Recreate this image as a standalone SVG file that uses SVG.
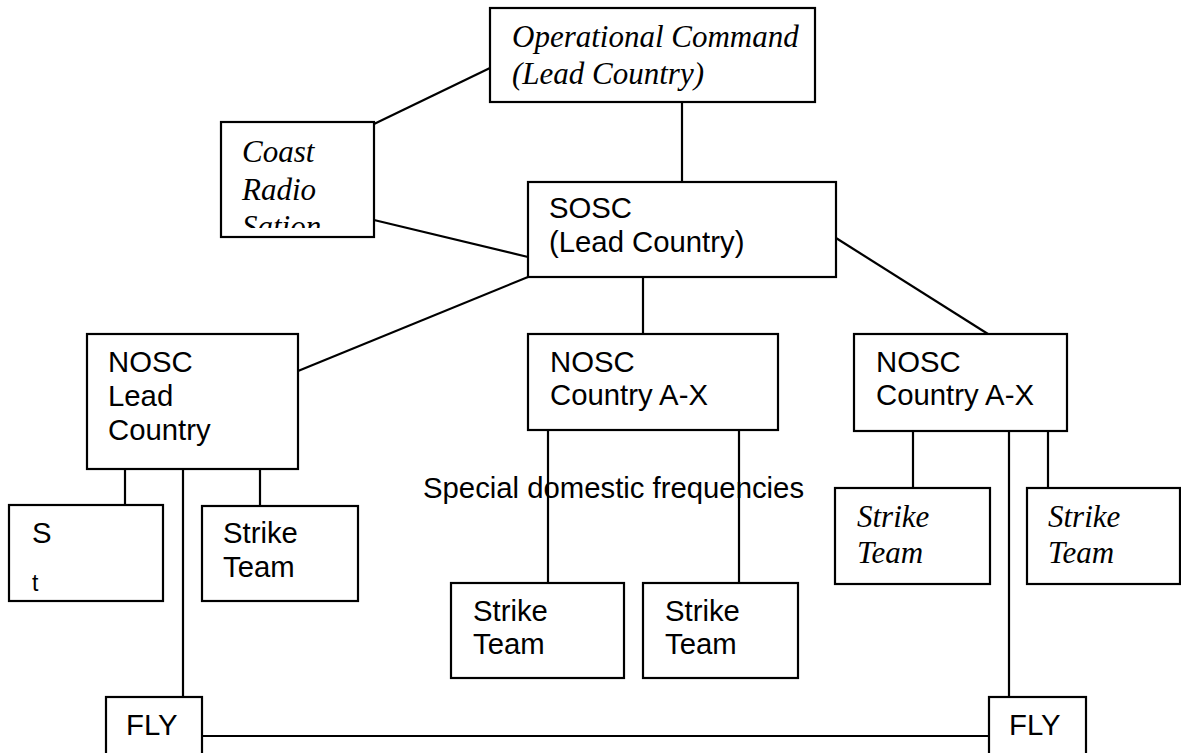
<svg xmlns="http://www.w3.org/2000/svg" width="1181" height="753" viewBox="0 0 1181 753">
<style>
.box{fill:#fff;stroke:#000;stroke-width:2.2}
.c{stroke:#000;stroke-width:2.2;fill:none}
.a{font-family:"Liberation Sans",Arial,sans-serif;font-size:29.3px;fill:#000}
.t{font-family:"Liberation Serif","Times New Roman",serif;font-style:italic;font-size:31px;fill:#000}
</style>
<defs>
<clipPath id="coastClip"><rect x="222" y="123" width="151" height="105"/></clipPath>
</defs>
<rect width="1181" height="753" fill="#fff"/>
<g id="connectors">
<line class="c" x1="682" y1="102" x2="682" y2="182"/>
<line class="c" x1="374" y1="124" x2="490" y2="68"/>
<line class="c" x1="374" y1="220" x2="528" y2="257"/>
<line class="c" x1="528" y1="277" x2="298" y2="371"/>
<line class="c" x1="643" y1="277" x2="643" y2="334"/>
<line class="c" x1="836" y1="238" x2="988" y2="334"/>
<line class="c" x1="125" y1="469" x2="125" y2="505"/>
<line class="c" x1="260" y1="469" x2="260" y2="506"/>
<line class="c" x1="183" y1="469" x2="183" y2="697"/>
<line class="c" x1="548" y1="430" x2="548" y2="583"/>
<line class="c" x1="739" y1="430" x2="739" y2="583"/>
<line class="c" x1="913" y1="431" x2="913" y2="488"/>
<line class="c" x1="1048" y1="431" x2="1048" y2="488"/>
<line class="c" x1="1009" y1="431" x2="1009" y2="697"/>
<line class="c" x1="202" y1="736" x2="989" y2="736"/>
</g>
<g id="opcommand">
<rect class="box" x="490" y="8" width="325" height="94"/>
<text class="t" x="512" y="47">Operational Command</text>
<text class="t" x="512" y="84">(Lead Country)</text>
</g>
<g id="coast">
<rect class="box" x="221" y="122" width="153" height="115"/>
<g clip-path="url(#coastClip)">
<text class="t" x="242" y="162">Coast</text>
<text class="t" x="242" y="200">Radio</text>
<text class="t" x="242" y="237">Sation</text>
</g>
</g>
<g id="sosc">
<rect class="box" x="528" y="182" width="308" height="95"/>
<text class="a" x="549" y="218">SOSC</text>
<text class="a" x="549" y="252">(Lead Country)</text>
</g>
<g id="nosc-lead">
<rect class="box" x="87" y="334" width="211" height="135"/>
<text class="a" x="108" y="372">NOSC</text>
<text class="a" x="108" y="406">Lead</text>
<text class="a" x="108" y="440">Country</text>
</g>
<g id="nosc-mid">
<rect class="box" x="528" y="334" width="250" height="96"/>
<text class="a" x="550" y="372">NOSC</text>
<text class="a" x="550" y="405">Country A-X</text>
</g>
<g id="nosc-right">
<rect class="box" x="854" y="334" width="213" height="97"/>
<text class="a" x="876" y="372">NOSC</text>
<text class="a" x="876" y="405">Country A-X</text>
</g>
<g id="strike-s">
<rect class="box" x="9" y="505" width="154" height="96"/>
<text class="a" x="32" y="543">S</text>
<text class="a" x="32" y="591" style="font-size:23px">t</text>
</g>
<g id="strike-left">
<rect class="box" x="202" y="506" width="156" height="95"/>
<text class="a" x="223" y="543">Strike</text>
<text class="a" x="223" y="577">Team</text>
</g>
<g id="label-special">
<text class="a" x="423" y="498">Special domestic frequencies</text>
</g>
<g id="strike-mid1">
<rect class="box" x="451" y="583" width="173" height="95"/>
<text class="a" x="473" y="621">Strike</text>
<text class="a" x="473" y="654">Team</text>
</g>
<g id="strike-mid2">
<rect class="box" x="643" y="583" width="155" height="95"/>
<text class="a" x="665" y="621">Strike</text>
<text class="a" x="665" y="654">Team</text>
</g>
<g id="strike-right1">
<rect class="box" x="835" y="488" width="155" height="96"/>
<text class="t" x="857" y="527">Strike</text>
<text class="t" x="857" y="563">Team</text>
</g>
<g id="strike-right2">
<rect class="box" x="1027" y="488" width="153" height="96"/>
<text class="t" x="1048" y="527">Strike</text>
<text class="t" x="1048" y="563">Team</text>
</g>
<g id="fly-left">
<rect class="box" x="106" y="697" width="96" height="70"/>
<text class="a" x="126" y="735">FLY</text>
</g>
<g id="fly-right">
<rect class="box" x="989" y="697" width="97" height="70"/>
<text class="a" x="1009" y="735">FLY</text>
</g>
</svg>
